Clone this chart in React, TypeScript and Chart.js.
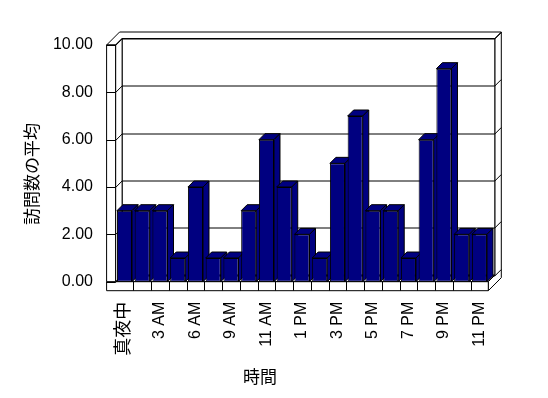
import React, { useEffect, useRef } from 'react';
import { Chart, registerables } from 'chart.js';

Chart.register(...registerables);

// ---- data ----
const categories = ['真夜中', '1 AM', '3 AM', '4 AM', '6 AM', '7 AM', '9 AM', '10 AM', '11 AM', '12 PM', '1 PM', '2 PM', '3 PM', '4 PM', '5 PM', '6 PM', '7 PM', '8 PM', '9 PM', '10 PM', '11 PM'];
const visits = [3, 3, 3, 1, 4, 1, 1, 3, 6, 4, 2, 1, 5, 7, 3, 3, 1, 6, 9, 2, 2];
const yMin = 0;
const yMax = 10;
const yStep = 2;
const yTitle = '訪問数の平均';
const xTitle = '時間';

// ---- style ----
const FONT = '"Liberation Sans", Arial, "Noto Sans CJK JP", sans-serif';
const CJK = '"Noto Sans CJK JP", sans-serif';
const NAVY = '#000080';
const D1 = 6.5; // depth offset of the back wall
const D2 = 13; // outer side of wall
const WALL = 9; // wall thickness
const BD = 6; // bar depth

const frame3d = {
  id: 'frame3d',
  beforeDatasetsDraw(chart: any) {
    const ctx = chart.ctx;
    const { left: L, right: R } = chart.chartArea;
    const ys = chart.scales.y;
    const B = ys.getPixelForValue(yMin);
    const T = ys.getPixelForValue(yMax);
    ctx.save();
    ctx.lineWidth = 1;
    ctx.strokeStyle = '#000';
    const poly = (pts: number[][], fill: string) => {
      ctx.beginPath();
      pts.forEach(([x, y], i) => (i ? ctx.lineTo(x, y) : ctx.moveTo(x, y)));
      ctx.closePath();
      ctx.fillStyle = fill;
      ctx.fill();
      ctx.stroke();
    };
    // right side (floor right + back wall right)
    poly([[R, B], [R, B + WALL], [R + D2, B + WALL - D2], [R + D2, T - D2], [R + D1, T - D1], [R + D1, B - D1]], '#fff');
    // top face of walls
    poly([[L - WALL, T], [L, T], [L + D1, T - D1], [R + D1, T - D1], [R + D2, T - D2], [L - WALL + D2, T - D2]], '#fff');
    // back wall inner face
    poly([[L + D1, T - D1], [R + D1, T - D1], [R + D1, B - D1], [L + D1, B - D1]], '#fff');
    // floor top
    poly([[L, B], [R, B], [R + D1, B - D1], [L + D1, B - D1]], '#fff');
    // floor front
    poly([[L - WALL, B], [R, B], [R, B + WALL], [L - WALL, B + WALL]], '#fff');
    // left wall inner face
    poly([[L, T], [L + D1, T - D1], [L + D1, B - D1], [L, B]], '#fff');
    // left wall front
    poly([[L - WALL, T], [L, T], [L, B], [L - WALL, B]], '#fff');

    // gridlines
    ctx.beginPath();
    for (let v = yMin; v <= yMax; v += yStep) {
      const y = Math.round(ys.getPixelForValue(v)) + 0.5;
      ctx.moveTo(L - WALL, y);
      ctx.lineTo(L, y);
      ctx.lineTo(L + D1, y - D1);
      ctx.lineTo(R + D1, y - D1);
      ctx.lineTo(R + D2, y - D2);
    }
    // floor cells
    const n = categories.length;
    const cw = (R - L) / n;
    for (let k = 1; k < n; k++) {
      const x = Math.round(L + k * cw) + 0.5;
      ctx.moveTo(x, B);
      ctx.lineTo(x, B + WALL);
    }
    ctx.stroke();

    // bar sides and tops
    const meta = chart.getDatasetMeta(0);
    meta.data.forEach((bar: any) => {
      const { x, y, base, width } = bar.getProps(['x', 'y', 'base', 'width'], true);
      const l = x - width / 2;
      const r = x + width / 2;
      poly([[l, y], [r, y], [r + BD, y - BD], [l + BD, y - BD]], NAVY);
      poly([[r, y], [r + BD, y - BD], [r + BD, base - BD], [r, base]], NAVY);
    });
    ctx.restore();
  },
  afterDraw(chart: any) {
    const ctx = chart.ctx;
    ctx.save();
    ctx.fillStyle = '#000';
    ctx.font = `17px ${CJK}`;
    ctx.textAlign = 'center';
    ctx.textBaseline = 'middle';
    ctx.translate(32, 174);
    ctx.rotate(-Math.PI / 2);
    ctx.fillText(yTitle, 0, 0);
    ctx.restore();
    ctx.save();
    ctx.fillStyle = '#000';
    ctx.font = `17px ${CJK}`;
    ctx.textAlign = 'center';
    ctx.textBaseline = 'middle';
    ctx.fillText(xTitle, 260, 377);
    ctx.restore();
  },
};

export default function App() {
  const ref = useRef<HTMLCanvasElement>(null);
  useEffect(() => {
    const chart = new Chart(ref.current!, {
      type: 'bar',
      data: {
        labels: categories,
        datasets: [
          {
            data: visits,
            backgroundColor: NAVY,
            borderColor: '#000',
            borderWidth: 1,
            borderSkipped: false,
            categoryPercentage: 1,
            barPercentage: 0.85,
          },
        ],
      },
      options: {
        responsive: false,
        animation: false,
        devicePixelRatio: 1,
        layout: { padding: { top: 45, right: 59.7, left: 0, bottom: 0 } },
        plugins: { legend: { display: false }, tooltip: { enabled: false } },
        scales: {
          x: {
            offset: true,
            grid: { display: false, drawTicks: false },
            border: { display: false },
            ticks: {
              autoSkip: false,
              maxRotation: 90,
              minRotation: 90,
              padding: 20,
              color: '#000',
              font: (c: any) => ({ size: c.index === 0 ? 18 : 16, family: FONT }),
              callback: (_v: any, i: number) => (i % 2 === 0 ? categories[i] : ''),
            },
            afterFit: (s: any) => {
              s.height = 116.3;
            },
          },
          y: {
            min: yMin,
            max: yMax,
            grid: { display: false, drawTicks: false },
            border: { display: false },
            ticks: {
              stepSize: yStep,
              padding: 22.6,
              color: '#000',
              font: { size: 16, family: FONT },
              callback: (v: any) => Number(v).toFixed(2),
            },
            afterFit: (s: any) => {
              s.width = 115.6;
            },
          },
        },
      },
      plugins: [frame3d],
    });
    return () => chart.destroy();
  }, []);
  return (
    <div style={{ position: 'fixed', left: 0, top: 0, width: 548, height: 398, background: '#fff' }}>
      <canvas ref={ref} width={548} height={398} />
    </div>
  );
}
